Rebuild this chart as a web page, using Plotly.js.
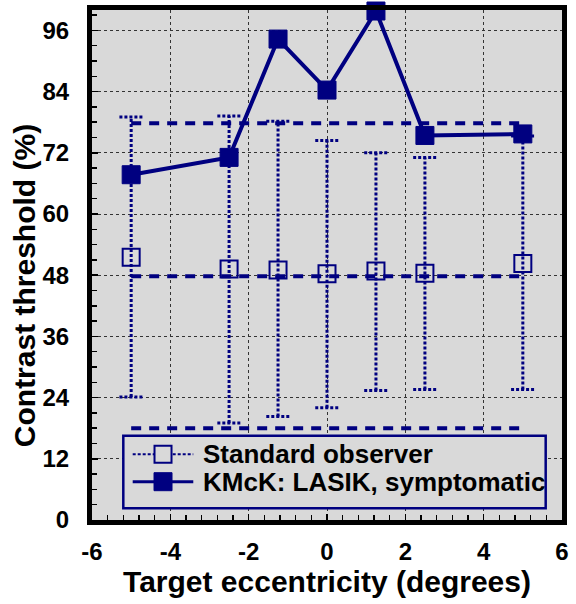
<!DOCTYPE html>
<html>
<head>
<meta charset="utf-8">
<script src="https://cdn.plot.ly/plotly-3.0.1.min.js"></script>
<style>html,body{margin:0;padding:0;background:#fff;}#chart{width:576px;height:604px;}</style>
</head>
<body>
<div id="chart"></div>
<script>
// ---- data ----
const eccentricity = [-5, -2.5, -1.25, 0, 1.25, 2.5, 5];
const kmckThreshold = [67.7, 71.1, 94.3, 84.3, 99.8, 75.4, 75.7];
const stdMean = [51.5, 49.2, 49.0, 48.3, 48.8, 48.4, 50.3];
const stdUpper = [79.0, 79.2, 78.2, 74.4, 72.0, 71.1, 75.3];
const stdLower = [24.1, 19.0, 20.3, 22.0, 25.4, 25.6, 25.6];
const bandLevels = [77.8, 47.8, 18.0];
const bandExtent = [-5, 5];
const xTickVals = [-6, -4, -2, 0, 2, 4, 6];
const yTickVals = [0, 12, 24, 36, 48, 60, 72, 84, 96];
const legendNames = ['Standard observer', 'KMcK: LASIK, symptomatic'];
const xTitle = 'Target eccentricity (degrees)';
const yTitle = 'Contrast threshold (%)';

// ---- styles ----
const NAVY = '#000080';
const CAP = 0.3;
const FONT = 'Liberation Sans, Arial, sans-serif';
const BG = '#d9d9d9';

// error bars (vertical stems + caps) built from the data arrays
const ebX = [], ebY = [];
eccentricity.forEach((x, i) => {
  ebX.push(x, x, null);             ebY.push(stdLower[i], stdUpper[i], null);
  ebX.push(x - CAP, x + CAP, null); ebY.push(stdUpper[i], stdUpper[i], null);
  ebX.push(x - CAP, x + CAP, null); ebY.push(stdLower[i], stdLower[i], null);
});

const bandX = [], bandY = [];
bandLevels.forEach(v => { bandX.push(bandExtent[0], bandExtent[1], null); bandY.push(v, v, null); });

const traces = [
  {x: ebX, y: ebY, mode: 'lines', line: {color: NAVY, width: 3, dash: '3px,2px'},
   showlegend: false, hoverinfo: 'skip'},
  {x: bandX, y: bandY, mode: 'lines', line: {color: NAVY, width: 4, dash: '10px,8px'},
   showlegend: false, hoverinfo: 'skip'},
  {x: eccentricity, y: stdMean, mode: 'markers', name: legendNames[0], showlegend: false,
   marker: {symbol: 'square-open', size: 17, color: NAVY, line: {color: NAVY, width: 2}}},
  {x: eccentricity, y: kmckThreshold, mode: 'lines+markers', name: legendNames[1], showlegend: false,
   line: {color: NAVY, width: 4},
   marker: {symbol: 'square', size: 18, color: NAVY, line: {color: NAVY, width: 1}},
   cliponaxis: false}
];

// ---- hand-built legend (layout decoration, paper coordinates) ----
const LG = {x0: 0.0666, x1: 0.9653, y0: 0.0229, y1: 0.1653,
            rows: [0.1288, 0.0751], lineX0: 0.0866, lineX1: 0.2155, symX: 0.1511, textX: 0.2319};
const shapes = [
  {type: 'rect', xref: 'paper', yref: 'paper', x0: LG.x0, x1: LG.x1, y0: LG.y0, y1: LG.y1,
   fillcolor: BG, line: {color: NAVY, width: 2.5}, layer: 'above'},
  {type: 'line', xref: 'paper', yref: 'paper', x0: LG.lineX0, x1: LG.lineX1, y0: LG.rows[0], y1: LG.rows[0],
   line: {color: NAVY, width: 2, dash: '3px,2px'}, layer: 'above'},
  {type: 'rect', xref: 'paper', yref: 'paper', xsizemode: 'pixel', ysizemode: 'pixel',
   xanchor: LG.symX, yanchor: LG.rows[0], x0: -8.5, x1: 8.5, y0: -8.5, y1: 8.5,
   fillcolor: BG, line: {color: NAVY, width: 2}, layer: 'above'},
  {type: 'line', xref: 'paper', yref: 'paper', x0: LG.lineX0, x1: LG.lineX1, y0: LG.rows[1], y1: LG.rows[1],
   line: {color: NAVY, width: 3}, layer: 'above'},
  {type: 'rect', xref: 'paper', yref: 'paper', xsizemode: 'pixel', ysizemode: 'pixel',
   xanchor: LG.symX, yanchor: LG.rows[1], x0: -9, x1: 9, y0: -9, y1: 9,
   fillcolor: NAVY, line: {color: NAVY, width: 1}, layer: 'above'}
];
const legendFont = {family: FONT, size: 26, color: '#000', weight: 'bold'};
const annotations = legendNames.map((t, i) => ({
  text: t, xref: 'paper', yref: 'paper', x: LG.textX, y: LG.rows[i],
  xanchor: 'left', yanchor: 'middle', showarrow: false, font: legendFont
}));
annotations.push({
  text: yTitle, xref: 'paper', yref: 'paper', x: -0.143, y: 0.46, textangle: -90,
  xanchor: 'center', yanchor: 'middle', showarrow: false,
  font: {family: FONT, size: 30, color: '#000', weight: 'bold'}
});

const axisCommon = {
  showline: true, linecolor: '#000', linewidth: 5, mirror: true,
  ticks: 'inside', ticklen: 6, tickwidth: 1.5, tickcolor: '#000',
  showgrid: true, gridcolor: '#333', griddash: 'dot', gridwidth: 1,
  zeroline: false,
  tickfont: {family: FONT, size: 24, color: '#000', weight: 'bold'}
};

const layout = {
  width: 576, height: 604,
  margin: {l: 92, r: 14, t: 10, b: 84},
  paper_bgcolor: '#fff', plot_bgcolor: BG,
  xaxis: Object.assign({}, axisCommon, {
    range: [-6, 6], tickvals: xTickVals, ticktext: xTickVals.map(String),
    ticklabelstandoff: 6,
    minor: {dtick: 0.4, tick0: -6, ticks: 'inside', ticklen: 5, tickcolor: '#000', showgrid: false},
    title: {text: xTitle, standoff: 8,
            font: {family: FONT, size: 30, color: '#000', weight: 'bold'}}
  }),
  yaxis: Object.assign({}, axisCommon, {
    range: [0, 100], tickvals: yTickVals, ticktext: yTickVals.map(String),
    ticklabelstandoff: 13,
    minor: {dtick: 3, tick0: 0, ticks: 'inside', ticklen: 5, tickcolor: '#000', showgrid: false}
  }),
  shapes: shapes,
  annotations: annotations,
  showlegend: false
};

Plotly.newPlot('chart', traces, layout, {displayModeBar: false, staticPlot: true});
</script>
</body>
</html>
